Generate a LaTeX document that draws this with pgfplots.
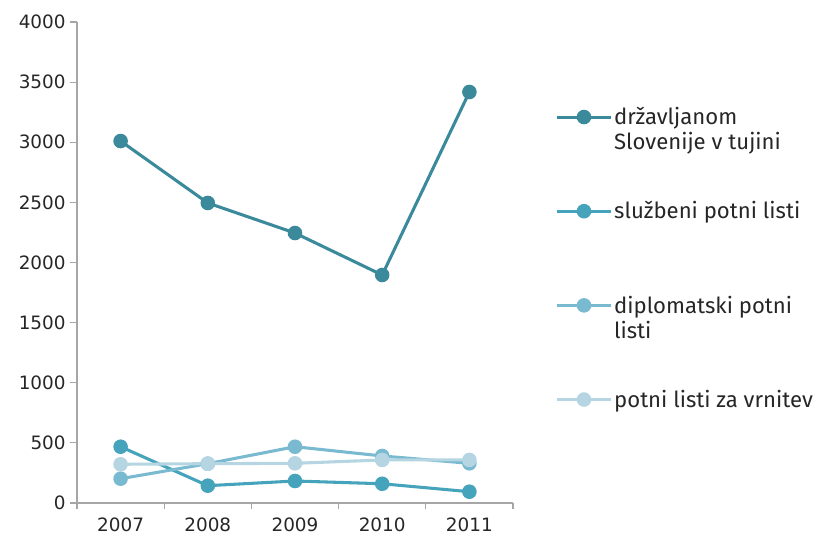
\documentclass[border=0pt]{standalone}
\usepackage{fontspec}
\setmainfont{Fira Sans}
\newfontfamily\dejavu{DejaVu Sans}
\usepackage{pgfplots}
\pgfplotsset{compat=1.18}
\definecolor{cA}{HTML}{3A8A9C}
\definecolor{cB}{HTML}{45A4BB}
\definecolor{cC}{HTML}{79BAD0}
\definecolor{cD}{HTML}{B4D5E1}
\definecolor{axg}{HTML}{A6A6A6}
\newcommand{\lt}[1]{\raisebox{0pt}[\height][0pt]{\begin{tabular}[t]{@{}l@{}}#1\end{tabular}}}
\begin{document}
\begin{tikzpicture}
\useasboundingbox (-57.75pt,-24.5pt) rectangle (558pt,377.25pt);
\begin{axis}[
  at={(0,0)}, anchor=south west,
  scale only axis, width=327pt, height=360.75pt,
  xmin=-0.5, xmax=4.5, ymin=0, ymax=4000,
  axis x line*=bottom, axis y line*=left,
  axis line style={axg, line width=0.9pt},
  xtick={0,1,2,3,4}, xticklabels={2007,2008,2009,2010,2011},
  minor xtick={-0.5,0.5,1.5,2.5,3.5,4.5},
  ytick={0,500,...,4000},
  tick align=outside,
  major tick length=5pt, minor tick length=4.5pt,
  major x tick style={draw=none},
  every tick/.style={axg, line width=0.9pt},
  scaled y ticks=false,
  /pgf/number format/set thousands separator={},
  /pgf/number format/assume math mode=true,
  tick label style={font=\dejavu\fontsize{13.8}{16}\selectfont, text=black!85},
  xticklabel style={yshift=-2.5pt},
  legend style={at={(1.096,0.826)}, anchor=north west, draw=none, fill=none,
    inner sep=0pt, row sep=54pt,
    font=\fontsize{16.6}{18.75}\selectfont,
    nodes={inner sep=1pt, text=black!85}},
  legend cell align=left,
  legend image code/.code={\draw[mark repeat=2,mark phase=2,#1] plot coordinates {(0pt,0pt) (20.5pt,0pt) (41pt,0pt)};},
  every axis plot/.append style={line width=2.3pt, mark=*, mark size=4.3pt},
]
\addplot[cA, mark options={fill=cA}] coordinates {(0,3010) (1,2495) (2,2245) (3,1896) (4,3418)};
\addlegendentry{\lt{državljanom\\Slovenije v tujini}}
\addplot[cB, mark options={fill=cB}] coordinates {(0,468) (1,144) (2,183) (3,160) (4,94)};
\addlegendentry{\lt{službeni potni listi}}
\addplot[cC, mark options={fill=cC}] coordinates {(0,202) (1,327) (2,468) (3,391) (4,330)};
\addlegendentry{\lt{diplomatski potni\\listi}}
\addplot[cD, mark options={fill=cD}] coordinates {(0,322) (1,327) (2,330) (3,358) (4,358)};
\addlegendentry{\lt{potni listi za vrnitev}}
\end{axis}
\end{tikzpicture}
\end{document}
